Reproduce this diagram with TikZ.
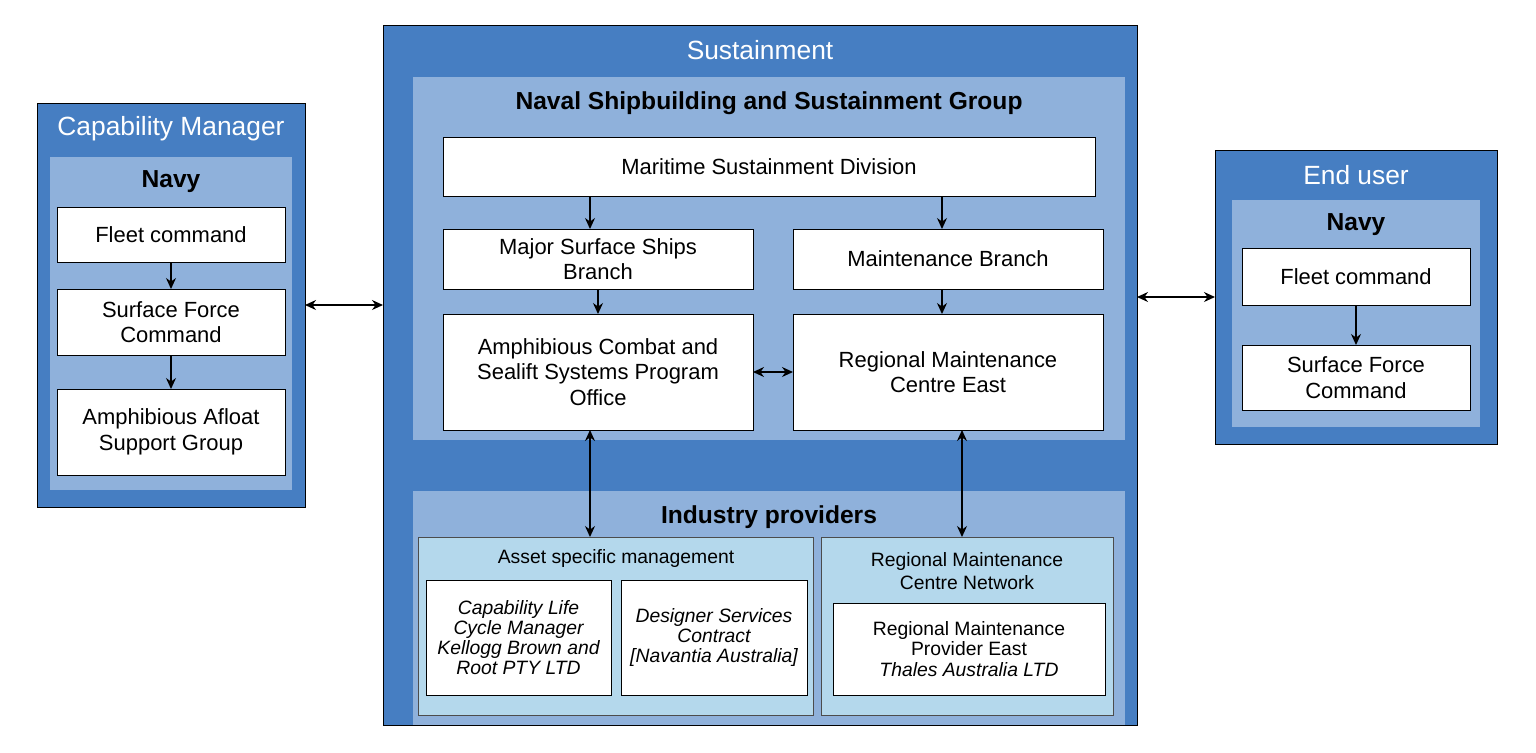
\documentclass[tikz,border=0pt]{standalone}
\usepackage{fontspec}
\setmainfont{Liberation Sans}
\usetikzlibrary{arrows.meta,positioning}
\definecolor{darkpanel}{HTML}{467EC2}
\definecolor{midpanel}{HTML}{8FB1DB}
\definecolor{lightpanel}{HTML}{B4D8EC}
\tikzset{
  box/.style={draw=black, fill=white, inner sep=0pt, outer sep=0pt, align=center},
  outer/.style={draw=black, fill=darkpanel, inner sep=0pt, outer sep=0pt},
  panel/.style={fill=midpanel, inner sep=0pt, outer sep=0pt},
  subpanel/.style={draw=black!70, fill=lightpanel, inner sep=0pt, outer sep=0pt},
  link/.style={{Stealth[length=2.2mm,width=2mm]}-{Stealth[length=2.2mm,width=2mm]}, thick},
  down/.style={-{Stealth[length=2.2mm,width=2mm]}, thick},
}
% rectangle node from pixel corners
\newcommand{\pbox}[7]{\node[#6, minimum width={(#4-#2)*0.02cm}, minimum height={(#5-#3)*0.02cm}] (#1) at ({(#2+#4)/2},{(#3+#5)/2}) {#7};}
\begin{document}
\begin{tikzpicture}[x=0.02cm, y=-0.02cm, font=\fontsize{12.5}{14.5}\selectfont]
  \useasboundingbox (0,0) rectangle (1536,752);

  % capability manager
  \pbox{cm}{37}{103}{305}{507}{outer}{}
  \node[white, font=\fontsize{15}{17}\selectfont] at (171,129) {Capability Manager};
  \pbox{cmnavy}{50}{157}{292}{490}{panel}{}
  \node[font=\fontsize{14}{16}\selectfont\bfseries] at (171,182) {Navy};
  \pbox{cmfleet}{57}{207}{285}{262}{box}{Fleet command}
  \pbox{cmsurf}{57}{289}{285}{355}{box}{Surface Force\\Command}
  \pbox{cmamph}{57}{389}{285}{475}{box}{Amphibious Afloat\\Support Group}
  \draw[down] (cmfleet) -- (cmsurf);
  \draw[down] (cmsurf) -- (cmamph);

  % sustainment
  \pbox{sus}{383}{25}{1137}{725}{outer}{}
  \node[white, font=\fontsize{15}{17}\selectfont] at (760,50) {Sustainment};
  \pbox{nssg}{413}{77}{1125}{440}{panel}{}
  \node[font=\fontsize{14}{16}\selectfont\bfseries] at (769,103) {Naval Shipbuilding and Sustainment Group};
  \pbox{msd}{443}{137}{1095}{196}{box}{Maritime Sustainment Division}
  \pbox{mssb}{443}{229}{753}{289}{box}{Major Surface Ships\\Branch}
  \pbox{mb}{793}{229}{1103}{289}{box}{Maintenance Branch}
  \pbox{acs}{443}{314}{753}{430}{box}{Amphibious Combat and\\Sealift Systems Program\\Office}
  \pbox{rmce}{793}{314}{1103}{430}{box}{Regional Maintenance\\Centre East}
  \draw[down] (590,196) -- (590,229);
  \draw[down] (942,196) -- (942,229);
  \draw[down] (mssb) -- (acs);
  \draw[down] (942,289) -- (942,314);
  \draw[link] (acs) -- (rmce);

  % industry
  \pbox{ind}{413}{491}{1125}{725}{panel}{}
  \node[font=\fontsize{14}{16}\selectfont\bfseries] at (769,517) {Industry providers};
  \pbox{asm}{418}{537}{813}{715}{subpanel}{}
  \node[font=\fontsize{11}{13}\selectfont] at (616,558) {Asset specific management};
  \pbox{clcm}{426}{580}{611}{695}{box, font=\fontsize{11}{11.5}\selectfont\itshape}{Capability Life\\Cycle Manager\\Kellogg Brown and\\Root PTY LTD}
  \pbox{dsc}{621}{580}{807}{695}{box, font=\fontsize{11}{11.5}\selectfont\itshape}{Designer Services\\Contract\\{[}Navantia Australia]}
  \pbox{rmcn}{821}{537}{1113}{715}{subpanel}{}
  \node[font=\fontsize{11}{13}\selectfont, align=center] at (967,571) {Regional Maintenance\\Centre Network};
  \pbox{rmpe}{833}{603}{1105}{695}{box, font=\fontsize{11}{11.5}\selectfont}{Regional Maintenance\\Provider East\\\textit{Thales Australia LTD}}
  \draw[link] (590,430) -- (590,537);
  \draw[link] (962,430) -- (962,537);

  % end user
  \pbox{eu}{1215}{150}{1497}{444}{outer}{}
  \node[white, font=\fontsize{15}{17}\selectfont] at (1356,175) {End user};
  \pbox{eunavy}{1232}{200}{1480}{427}{panel}{}
  \node[font=\fontsize{14}{16}\selectfont\bfseries] at (1356,225) {Navy};
  \pbox{eufleet}{1242}{248}{1470}{305}{box}{Fleet command}
  \pbox{eusurf}{1242}{345}{1470}{410}{box}{Surface Force\\Command}
  \draw[down] (eufleet) -- (eusurf);

  \draw[link] (305,305) -- (383,305);
  \draw[link] (1137,297) -- (1215,297);
\end{tikzpicture}
\end{document}
